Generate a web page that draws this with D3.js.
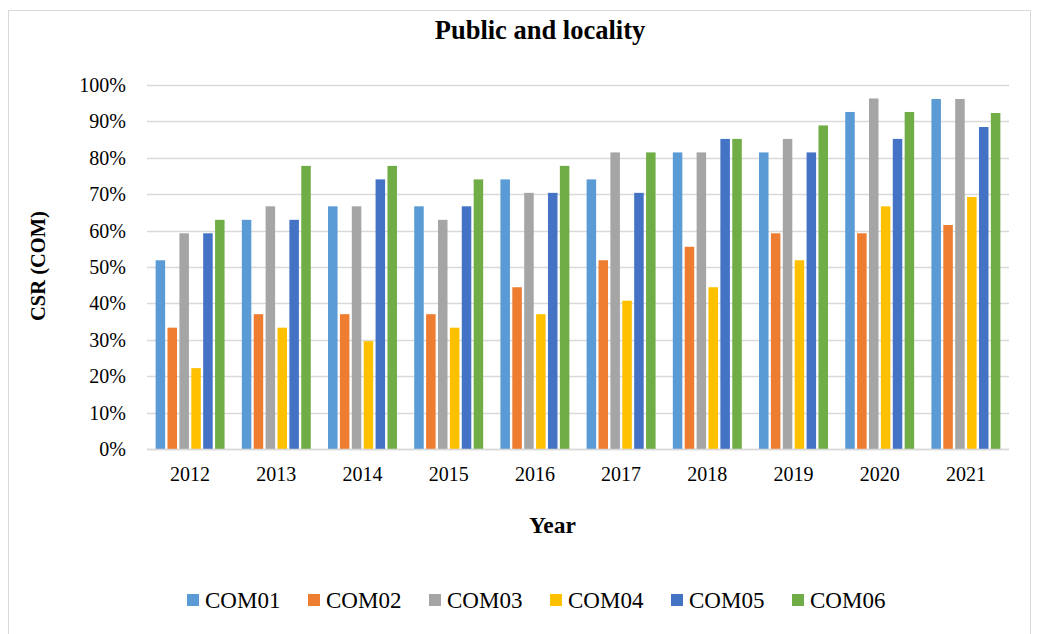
<!DOCTYPE html>
<html>
<head>
<meta charset="utf-8">
<script src="https://cdn.jsdelivr.net/npm/d3@7"></script>
<style>
  html, body { margin: 0; padding: 0; background: #fff; }
  svg { display: block; }
  svg text { font-family: "Liberation Serif", "Times New Roman", serif; }
</style>
</head>
<body>
<svg id="chart" width="1040" height="634"></svg>
<script>
const years = ["2012","2013","2014","2015","2016","2017","2018","2019","2020","2021"];
const seriesNames = ["COM01","COM02","COM03","COM04","COM05","COM06"];
const colors = ["#5B9BD5","#ED7D31","#A5A5A5","#FFC000","#4472C4","#70AD47"];
const COM01 = [0.5185, 0.6296, 0.6667, 0.6667, 0.7407, 0.7407, 0.8148, 0.8148, 0.9259, 0.9615];
const COM02 = [0.3333, 0.3704, 0.3704, 0.3704, 0.4444, 0.5185, 0.5556, 0.5926, 0.5926, 0.6154];
const COM03 = [0.5926, 0.6667, 0.6667, 0.6296, 0.7037, 0.8148, 0.8148, 0.8519, 0.9630, 0.9615];
const COM04 = [0.2222, 0.3333, 0.2963, 0.3333, 0.3704, 0.4074, 0.4444, 0.5185, 0.6667, 0.6923];
const COM05 = [0.5926, 0.6296, 0.7407, 0.6667, 0.7037, 0.7037, 0.8519, 0.8148, 0.8519, 0.8846];
const COM06 = [0.6296, 0.7778, 0.7778, 0.7407, 0.7778, 0.8148, 0.8519, 0.8889, 0.9259, 0.9231];
const yTicks = [0,0.1,0.2,0.3,0.4,0.5,0.6,0.7,0.8,0.9,1.0];
const chartTitle = "Public and locality";
const xTitle = "Year";
const yTitle = "CSR (COM)";

const seriesValues = [COM01, COM02, COM03, COM04, COM05, COM06];
const serif = "'Liberation Serif', 'Times New Roman', serif";

const svg = d3.select("#chart");
const pLeft = 147, pRight = 1009, pTop = 85, pBottom = 449;

// outer border
svg.append("rect").attr("x", 8.5).attr("y", 10.5).attr("width", 1022).attr("height", 640)
  .attr("fill", "#fff").attr("stroke", "#d9d9d9").attr("stroke-width", 1);

const x0 = d3.scaleBand().domain(years).range([pLeft, pRight]).paddingInner(0.2).paddingOuter(0.1);
const x1 = d3.scaleBand().domain(seriesNames).range([0, x0.bandwidth()]).paddingInner(0.2).paddingOuter(0);
const y = d3.scaleLinear().domain([0, 1]).range([pBottom, pTop]);

// gridlines
svg.append("g").selectAll("line").data(yTicks).join("line")
  .attr("x1", pLeft).attr("x2", pRight)
  .attr("y1", d => Math.round(y(d)) + 0.5).attr("y2", d => Math.round(y(d)) + 0.5)
  .attr("stroke", "#d9d9d9").attr("stroke-width", 1.5);

// y axis labels
const yAxis = d3.axisLeft(y).tickValues(yTicks).tickFormat(d3.format(".0%")).tickSize(0).tickPadding(0);
const gy = svg.append("g").attr("transform", `translate(${pLeft - 21},0)`).call(yAxis);
gy.select(".domain").remove();
gy.attr("font-family", serif);
gy.selectAll("text").attr("font-size", "20px").attr("fill", "#000");

// bars
const groups = svg.append("g").selectAll("g").data(years).join("g")
  .attr("transform", d => `translate(${x0(d)},0)`);
groups.selectAll("rect")
  .data((d, i) => seriesNames.map((s, j) => ({ s, j, v: seriesValues[j][i] })))
  .join("rect")
  .attr("x", d => x1(d.s))
  .attr("width", x1.bandwidth())
  .attr("y", d => y(d.v))
  .attr("height", d => y(0) - y(d.v))
  .attr("fill", d => colors[d.j]);

// x axis line
svg.append("line").attr("x1", pLeft).attr("x2", pRight).attr("y1", pBottom + 0.5).attr("y2", pBottom + 0.5)
  .attr("stroke", "#d9d9d9").attr("stroke-width", 1.5);

// x axis labels
const xAxis = d3.axisBottom(x0).tickSize(0).tickPadding(0);
const gx = svg.append("g").attr("transform", `translate(0,${pBottom})`).call(xAxis);
gx.select(".domain").remove();
gx.attr("font-family", serif);
gx.selectAll("text").attr("font-size", "20px").attr("fill", "#000").attr("dy", null).attr("y", 32);

// titles
svg.append("text").attr("x", 540).attr("y", 39).attr("text-anchor", "middle")
  .attr("font-size", "26.5px").attr("font-weight", "bold").attr("font-family", serif).text(chartTitle);
svg.append("text").attr("x", 552.5).attr("y", 533).attr("text-anchor", "middle")
  .attr("font-size", "23.5px").attr("font-weight", "bold").attr("font-family", serif).text(xTitle);
svg.append("text").attr("transform", "translate(45,266) rotate(-90)").attr("text-anchor", "middle")
  .attr("font-size", "20.5px").attr("font-weight", "bold").attr("font-family", serif).text(yTitle);

// legend
const lg = svg.append("g").selectAll("g").data(seriesNames).join("g")
  .attr("transform", (d, i) => `translate(${187 + i * 121},0)`);
lg.append("rect").attr("x", 0).attr("y", 594).attr("width", 12).attr("height", 12)
  .attr("fill", (d, i) => colors[i]);
lg.append("text").attr("x", 18).attr("y", 608).attr("font-size", "23px").attr("fill", "#000")
  .attr("font-family", serif).text(d => d);
</script>
</body>
</html>
